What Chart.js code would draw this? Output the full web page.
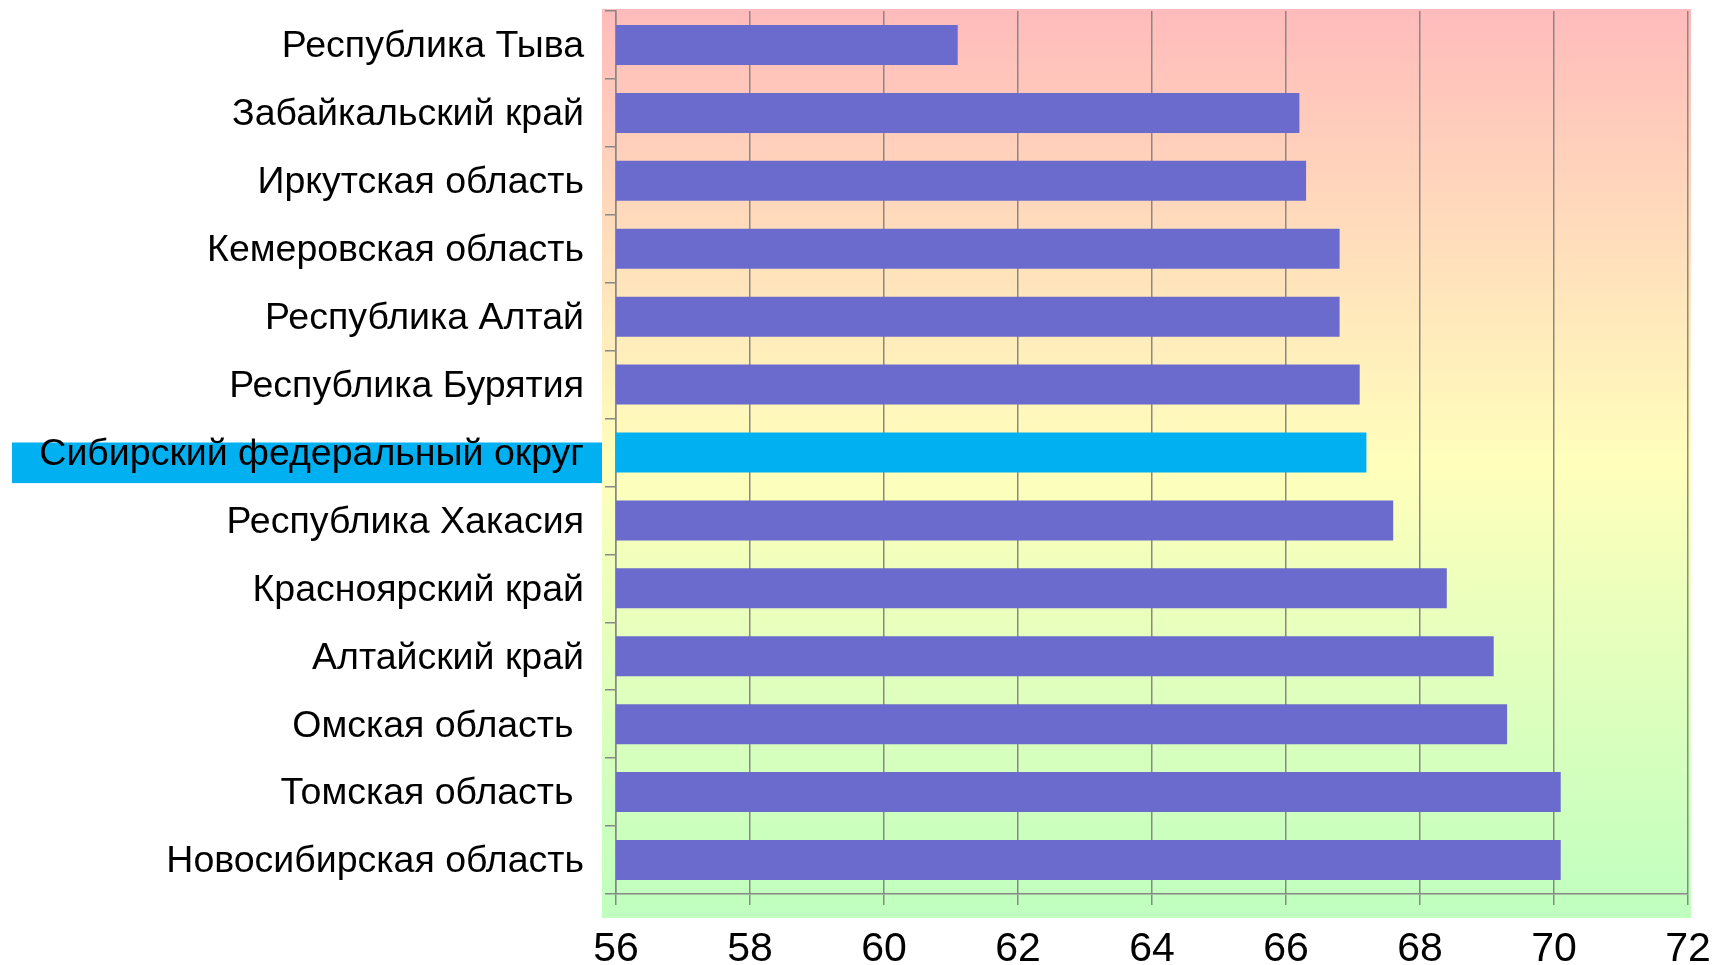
<!DOCTYPE html>
<html>
<head>
<meta charset="utf-8">
<script src="https://cdn.jsdelivr.net/npm/chart.js@4/dist/chart.umd.min.js"></script>
<style>
  html, body { margin: 0; padding: 0; background: #fff; }
  #wrap { width: 1714px; height: 965px; }
</style>
</head>
<body>
<div id="wrap"><canvas id="chart"></canvas></div>
<script>
const regions = [
    'Республика Тыва',
    'Забайкальский край',
    'Иркутская область',
    'Кемеровская область',
    'Республика Алтай',
    'Республика Бурятия',
    'Сибирский федеральный округ',
    'Республика Хакасия',
    'Красноярский край',
    'Алтайский край',
    'Омская область ',
    'Томская область ',
    'Новосибирская область',
];
const values = [61.1, 66.2, 66.3, 66.8, 66.8, 67.1, 67.2, 67.6, 68.4, 69.1, 69.3, 70.1, 70.1];
const highlighted = 'Сибирский федеральный округ';
const xMin = 56, xMax = 72, xStep = 2;

const barColors = regions.map(r => r === highlighted ? '#00b0f0' : '#6b6bcd');

// gradient plot background + highlighted label box
const backdrop = {
    id: 'backdrop',
    beforeDraw(chart) {
        const { ctx, chartArea: a, scales } = chart;
        const top = a.top - 2, bottom = a.bottom + 24;
        const g = ctx.createLinearGradient(0, top, 0, bottom);
        g.addColorStop(0, '#ffbbbb');
        g.addColorStop(0.5, '#ffffbb');
        g.addColorStop(1, '#bfffbf');
        ctx.save();
        ctx.fillStyle = g;
        ctx.fillRect(a.left - 14, top, a.right + 3 - (a.left - 14), bottom - top);
        const i = regions.indexOf(highlighted);
        const yc = scales.y.getPixelForValue(i);
        ctx.fillStyle = '#00b0f0';
        ctx.fillRect(12, yc - 10, a.left - 14 - 12, 40.6);
        ctx.restore();
    }
};

new Chart(document.getElementById('chart'), {
    type: 'bar',
    data: {
        labels: regions,
        datasets: [{ data: values, backgroundColor: barColors, borderWidth: 0, barPercentage: 0.589, categoryPercentage: 1 }],
    },
    options: {
        indexAxis: 'y',
        responsive: true,
        maintainAspectRatio: false,
        animation: false,
        layout: { padding: { top: 11, right: 26, left: 0, bottom: 0 } },
        plugins: { legend: { display: false }, tooltip: { enabled: false } },
        scales: {
            x: {
                min: xMin, max: xMax,
                ticks: {
                    stepSize: xStep, padding: 20, color: '#000',
                    font: { family: '"Liberation Sans Narrow", "Liberation Sans", Arial, sans-serif', size: 41, lineHeight: 1.2 },
                },
                grid: { color: '#888888', lineWidth: 1.5, tickLength: 11 },
                border: { color: '#888888', width: 1.5 },
                afterFit(s) { s.height = 71; s.paddingLeft = 0; s.paddingRight = 0; },
            },
            y: {
                ticks: {
                    padding: 21, color: '#000', labelOffset: 2,
                    font: { family: '"Liberation Sans", Arial, sans-serif', size: 37.5 },
                },
                grid: { color: '#888888', lineWidth: 1.5, tickLength: 11, drawOnChartArea: false, offset: true },
                border: { color: '#888888', width: 1.5 },
                afterFit(s) { s.width = 616; s.paddingTop = 0; s.paddingBottom = 0; },
            },
        },
    },
    plugins: [backdrop],
});
</script>
</body>
</html>
